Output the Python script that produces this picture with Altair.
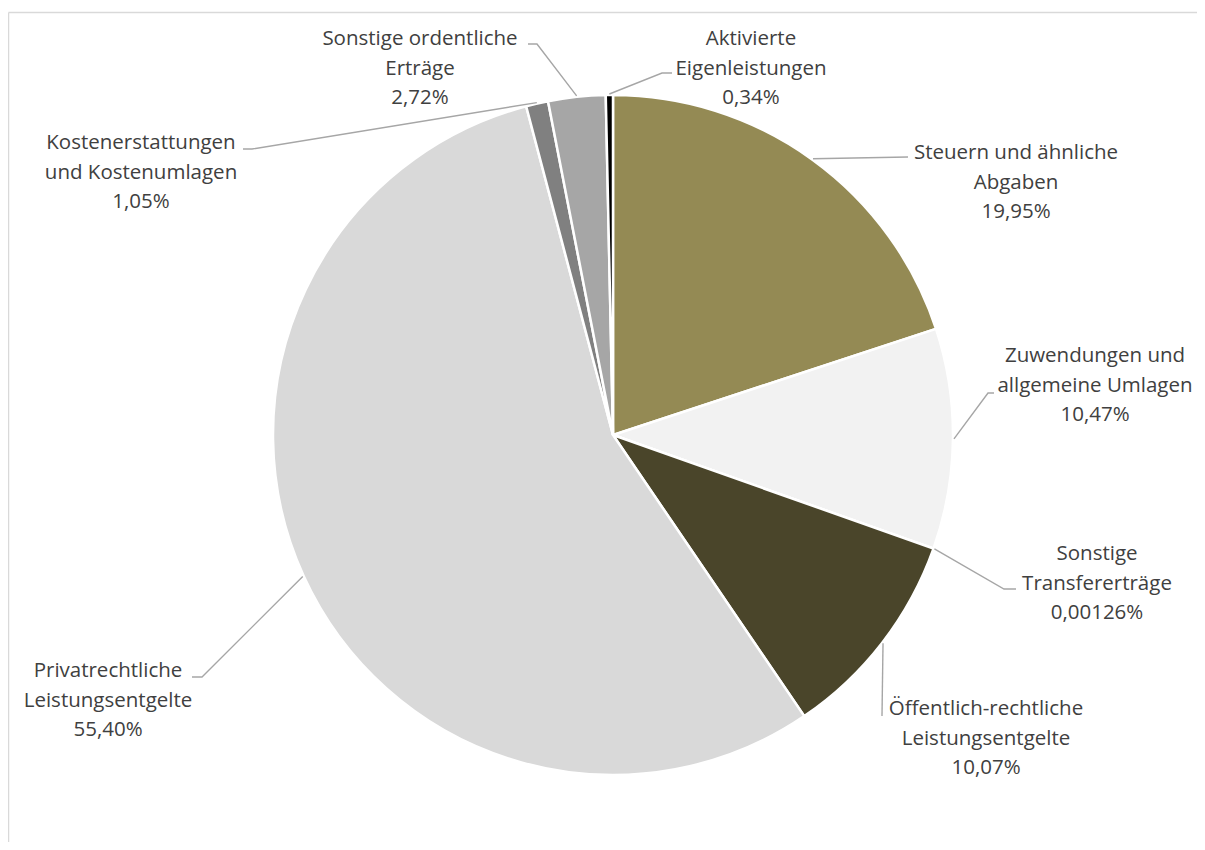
import math
import altair as alt
import pandas as pd

# ---- data ----
categories = [
    "Steuern und ähnliche Abgaben",
    "Zuwendungen und allgemeine Umlagen",
    "Sonstige Transfererträge",
    "Öffentlich-rechtliche Leistungsentgelte",
    "Privatrechtliche Leistungsentgelte",
    "Kostenerstattungen und Kostenumlagen",
    "Sonstige ordentliche Erträge",
    "Aktivierte Eigenleistungen",
]
label_text = [
    "Steuern und ähnliche\nAbgaben",
    "Zuwendungen und\nallgemeine Umlagen",
    "Sonstige\nTransfererträge",
    "Öffentlich-rechtliche\nLeistungsentgelte",
    "Privatrechtliche\nLeistungsentgelte",
    "Kostenerstattungen\nund Kostenumlagen",
    "Sonstige ordentliche\nErträge",
    "Aktivierte\nEigenleistungen",
]
shares = [19.95, 10.47, 0.00126, 10.07, 55.40, 1.05, 2.72, 0.34]

# ---- styles / layout ----
colors = ["#948A54", "#F2F2F2", "#DDD9C4", "#4A452A", "#D9D9D9", "#808080", "#A6A6A6", "#000000"]
W, H = 1189, 834
CX, CY, R = 605, 427, 340
# label anchor: centre x and first-line y (chart px)
label_x = [1008, 1087, 1089, 978, 100, 133, 412, 743]
label_y = [145, 348, 546, 701, 663, 135, 31, 31]
# leader line elbow and end points (chart px)
elbow_x = [900, 980, 996, 874, 194, 244, 529, 654]
elbow_y = [149, 385, 581, 708, 669, 141, 36, 65]
end_x = [900, 986, 1008, 874, 184, 235, 520, 664]
end_y = [149, 385, 581, 708, 669, 141, 36, 65]


def fmt(v):
    d = 2 if v >= 0.01 else 5
    return f"{v:.{d}f}".replace(".", ",") + "%"


df = pd.DataFrame({
    "cat": categories,
    "value": shares,
    "order": list(range(len(categories))),
    "label": [t + "\n" + fmt(v) for t, v in zip(label_text, shares)],
    "lx": label_x,
    "ly": label_y,
})

# leader lines: start at slice mid-angle on the rim
total = sum(shares)
rows = []
cum = 0.0
for i, v in enumerate(shares):
    mid = (cum + v / 2) / total * 2 * math.pi
    cum += v
    sx = CX + (R + 1) * math.sin(mid)
    sy = CY - (R + 1) * math.cos(mid)
    rows.append({"cat": categories[i], "seq": 0, "x": sx, "y": sy})
    rows.append({"cat": categories[i], "seq": 1, "x": elbow_x[i], "y": elbow_y[i]})
    rows.append({"cat": categories[i], "seq": 2, "x": end_x[i], "y": end_y[i]})
lines_df = pd.DataFrame(rows)

pie = alt.Chart(df).mark_arc(radius=R, stroke="white", strokeWidth=2.5).encode(
    theta=alt.Theta("value:Q", stack=True),
    order=alt.Order("order:Q"),
    color=alt.Color("cat:N", scale=alt.Scale(domain=categories, range=colors), legend=None),
    x=alt.value(CX),
    y=alt.value(CY),
)

leaders = alt.Chart(lines_df).mark_line(color="#A6A6A6", strokeWidth=1.4).encode(
    x=alt.X("x:Q", scale=None, axis=None),
    y=alt.Y("y:Q", scale=None, axis=None),
    detail="cat:N",
    order="seq:Q",
)

labels = alt.Chart(df).mark_text(
    align="center", baseline="middle", lineBreak="\n", lineHeight=29.5,
    fontSize=20.5, font="Open Sans", color="#404040",
).encode(
    x=alt.X("lx:Q", scale=None, axis=None),
    y=alt.Y("ly:Q", scale=None, axis=None),
    text="label:N",
)

frame_df = pd.DataFrame({"a": [0]})
top_rule = alt.Chart(frame_df).mark_rule(color="#D9D9D9", strokeWidth=1.5).encode(
    x=alt.value(0.5), x2=alt.value(W), y=alt.value(4.5)
)
left_rule = alt.Chart(frame_df).mark_rule(color="#D9D9D9", strokeWidth=1.5).encode(
    x=alt.value(0.5), y=alt.value(4.5), y2=alt.value(H)
)

chart = alt.layer(top_rule, left_rule, pie, leaders, labels).properties(
    width=W, height=H, padding=0, autosize=alt.AutoSizeParams(type="none")
).configure_view(stroke=None)

chart.save("out.html", embed_options={"renderer": "svg", "actions": False})
